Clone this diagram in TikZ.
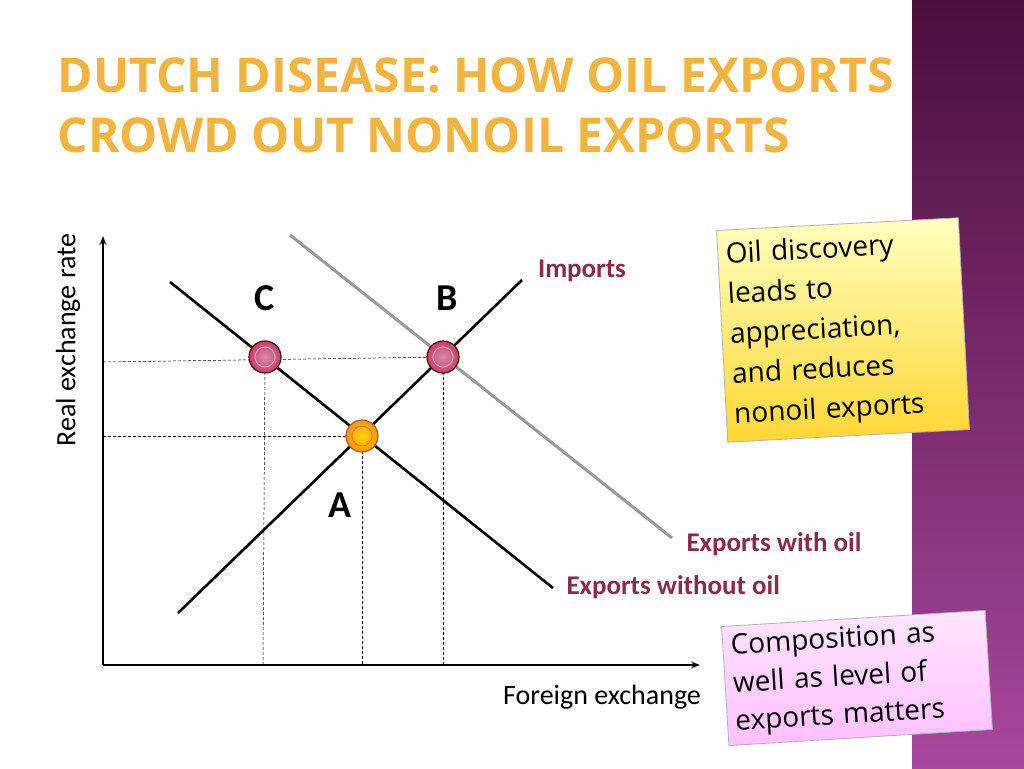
\documentclass[tikz,border=0pt]{standalone}
\usepackage{fontspec}
\setmainfont{Carlito}
\newfontfamily\notefont{Open Sans}
\newfontfamily\ttlfont{Open Sans}
\usetikzlibrary{arrows.meta}
\definecolor{lab}{HTML}{8B2A4A}
\definecolor{ttl}{HTML}{F2B441}
\definecolor{bartop}{HTML}{4A0E3C}
\definecolor{barbot}{HTML}{A8479E}
\definecolor{HTMLpink}{HTML}{C0406E}
\tikzset{
  curve/.style={line width=2.6pt},
  guide/.style={line width=0.5pt, dash pattern=on 3pt off 2pt},
  ptpink/.style={circle, minimum size=32pt, inner sep=0pt, draw=black!60!red, line width=1.2pt, inner color=HTMLpink!60!white, outer color=HTMLpink},
  ptyel/.style={circle, minimum size=32pt, inner sep=0pt, draw=brown!80!black, line width=1.2pt, inner color=yellow!70!orange, outer color=orange!85!yellow},
  ptlab/.style={font=\bfseries\fontsize{38}{40}\selectfont},
  curlab/.style={font=\bfseries\fontsize{27}{29}\selectfont, text=lab},
  note/.style={draw=gray!60, line width=0.8pt, align=left, inner sep=8pt},
}
\begin{document}
\begin{tikzpicture}[x=1pt,y=-1pt]
\useasboundingbox (0,0) rectangle (1024,768);
\fill[white] (0,0) rectangle (1024,768);
\shade[top color=bartop, bottom color=barbot] (912,0) rectangle (1024,768);
% title
\node[anchor=west, text=ttl, font=\ttlfont\bfseries\fontsize{48}{50}\selectfont] (t1) at (54,75) {DUTCH DISEASE: HOW OIL EXPORTS};
\node[anchor=west, text=ttl, font=\ttlfont\bfseries\fontsize{48}{50}\selectfont] (t2) at (54,135) {CROWD OUT NONOIL EXPORTS};
% axes
\coordinate (O) at (103,665);
\coordinate (Y) at (103,236);
\coordinate (X) at (700,665);
\draw[line width=2pt, -{Stealth[length=9pt]}] (O) -- (Y);
\draw[line width=2pt, -{Stealth[length=9pt]}] (O) -- (X);
\node[rotate=90, font=\fontsize{28}{30}\selectfont] (yl) at (68,340) {Real exchange rate};
\node[font=\fontsize{28}{30}\selectfont] (xl) at (602,697) {Foreign exchange};
% points
\coordinate (A) at (362,436);
\coordinate (C) at (265,357);
\coordinate (B) at (443,357);
% guides
\draw[guide] (103,362) -- (B);
\draw[guide] (103,436) -- (A);
\draw[guide] (C) -- (263,665);
\draw[guide] (A) -- (362,665);
\draw[guide] (B) -- (443,665);
% curves
\coordinate (e1) at (290,235); \coordinate (e2) at (672,538);
\draw[curve, gray!80, line width=3pt] (e1) -- (e2);
\coordinate (d1) at (170,282); \coordinate (d2) at (553,588);
\draw[curve] (d1) -- (d2);
\coordinate (i1) at (178,613); \coordinate (i2) at (522,280);
\draw[curve] (i1) -- (i2);
\node[ptpink] (pC) at (C) {};
\node[circle, draw=HTMLpink!50!white, minimum size=20pt, line width=1pt] at (C) {};
\node[ptpink] (pB) at (B) {};
\node[circle, draw=HTMLpink!50!white, minimum size=20pt, line width=1pt] at (B) {};
\node[ptyel] (pA) at (A) {};
\node[circle, draw=brown!60!orange, minimum size=20pt, line width=1pt] at (A) {};
\node[ptlab] (lC) at (265,298) {C};
\node[ptlab] (lB) at (447,298) {B};
\node[ptlab] (lA) at (340,505) {A};
\node[curlab] (li) at (582,271) {Imports};
\node[curlab, anchor=west] (lw) at (683,544) {Exports with oil};
\node[curlab, anchor=west] (lo) at (563,587) {Exports without oil};
% notes
\node[note, top color=yellow!25, bottom color=orange!40!yellow!80, minimum width=242pt, minimum height=212pt, text width=226pt, font=\notefont\fontsize{28}{40}\selectfont, rotate=3] (n1) at (843,330) {Oil discovery\\leads to\\appreciation,\\and reduces\\nonoil exports};
\node[note, top color=magenta!10, bottom color=magenta!25, minimum width=264pt, minimum height=116pt, text width=248pt, font=\notefont\fontsize{28}{38}\selectfont, rotate=3.5] (n2) at (857,678) {Composition as\\well as level of\\exports matters};
\end{tikzpicture}
\end{document}
